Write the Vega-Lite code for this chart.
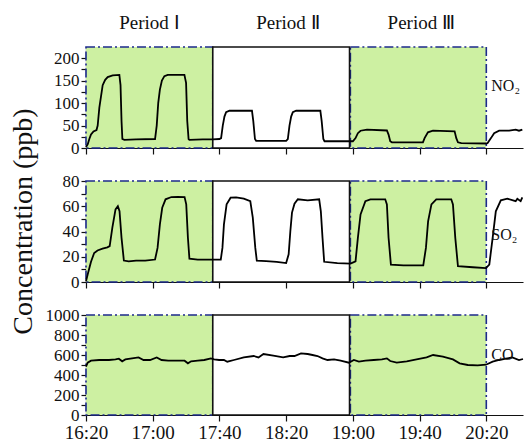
{
  "$schema": "https://vega.github.io/schema/vega-lite/v6.json",
  "padding": {"left": 8, "top": 14, "right": 0, "bottom": 2},
  "spacing": 33,
  "bounds": "flush",
  "config": {
    "font": "Liberation Serif",
    "view": {"stroke": null},
    "axis": {"grid": false, "labelOverlap": false, "domainColor": "#111", "tickColor": "#111", "labelColor": "#111", "titleColor": "#111", "labelFont": "Liberation Serif", "titleFont": "Liberation Serif", "titleFontWeight": "normal", "domainWidth": 1.2, "tickWidth": 1.2}
  },
  "datasets": {
    "periods": [
      {"period": "Period Ⅰ", "kind": "green", "start": 980, "end": 1056, "labelT": 1018},
      {"period": "Period Ⅱ", "kind": "white", "start": 1056, "end": 1138, "labelT": 1101},
      {"period": "Period Ⅲ", "kind": "green", "start": 1138.5, "end": 1220, "labelT": 1181}
    ],
    "no2": [
      {"t":980,"v":2},{"t":981,"v":8},{"t":982,"v":20},{"t":983,"v":30},{"t":984.5,"v":37},{"t":986.3,"v":40},{"t":987,"v":50},{"t":988,"v":90},{"t":989,"v":115},{"t":990,"v":140},{"t":991.5,"v":152},{"t":993,"v":158},{"t":996,"v":162},{"t":1000,"v":163},{"t":1000.7,"v":140},{"t":1001.3,"v":60},{"t":1001.8,"v":20},{"t":1003,"v":18},{"t":1010,"v":19},{"t":1021.4,"v":20},{"t":1022.4,"v":50},{"t":1023.3,"v":100},{"t":1024.3,"v":130},{"t":1025.5,"v":150},{"t":1027,"v":160},{"t":1029,"v":163},{"t":1039,"v":163},{"t":1040,"v":145},{"t":1040.7,"v":60},{"t":1041.5,"v":20},{"t":1042,"v":18},{"t":1050,"v":19},{"t":1056,"v":19},{"t":1060,"v":20},{"t":1061,"v":22},{"t":1062,"v":50},{"t":1063,"v":70},{"t":1064,"v":80},{"t":1066,"v":83},{"t":1079.5,"v":83},{"t":1080.3,"v":60},{"t":1081.3,"v":20},{"t":1082,"v":16},{"t":1090,"v":16},{"t":1100,"v":16},{"t":1101,"v":20},{"t":1102,"v":50},{"t":1103,"v":70},{"t":1104,"v":80},{"t":1106,"v":83},{"t":1120.5,"v":83},{"t":1121.3,"v":60},{"t":1122.3,"v":20},{"t":1123,"v":15},{"t":1130,"v":15},{"t":1137,"v":15},{"t":1140,"v":15},{"t":1141.6,"v":22},{"t":1143,"v":33},{"t":1144.6,"v":38.5},{"t":1148.5,"v":41},{"t":1160.4,"v":39},{"t":1161.4,"v":30},{"t":1162.4,"v":15},{"t":1163.4,"v":12.6},{"t":1182,"v":12.6},{"t":1183,"v":22},{"t":1185,"v":35},{"t":1188,"v":38.5},{"t":1201,"v":37},{"t":1202,"v":22},{"t":1203,"v":12.6},{"t":1205,"v":11},{"t":1220,"v":10},{"t":1220.8,"v":11},{"t":1222.8,"v":22},{"t":1224.7,"v":33},{"t":1227.7,"v":38.5},{"t":1233.7,"v":38.5},{"t":1237.6,"v":41},{"t":1239.6,"v":38.5},{"t":1241.6,"v":41}
    ],
    "so2": [
      {"t":980,"v":0.5},{"t":981,"v":6},{"t":983,"v":16},{"t":984.9,"v":23},{"t":986.9,"v":25},{"t":989.9,"v":26.5},{"t":992.8,"v":27.5},{"t":994.2,"v":28.4},{"t":995.8,"v":43},{"t":997.7,"v":57.5},{"t":999.1,"v":60},{"t":1000.1,"v":56},{"t":1001.3,"v":35},{"t":1002.7,"v":17},{"t":1005.6,"v":16.4},{"t":1010,"v":17},{"t":1015.5,"v":17},{"t":1021.4,"v":17.8},{"t":1022.9,"v":27},{"t":1024.3,"v":45.6},{"t":1025.7,"v":58.8},{"t":1027.7,"v":65.5},{"t":1031.2,"v":67.3},{"t":1035,"v":67.5},{"t":1039.1,"v":67.3},{"t":1040.1,"v":61.5},{"t":1041.1,"v":35},{"t":1042,"v":18.5},{"t":1047,"v":17.8},{"t":1054.9,"v":17.8},{"t":1060.8,"v":17.8},{"t":1061.8,"v":27},{"t":1062.7,"v":45.6},{"t":1064.3,"v":61.5},{"t":1066.7,"v":66.8},{"t":1070,"v":67},{"t":1074.6,"v":66},{"t":1078.5,"v":64},{"t":1080,"v":51},{"t":1081.5,"v":27},{"t":1082.4,"v":17},{"t":1088,"v":16.5},{"t":1094.3,"v":16},{"t":1100,"v":15},{"t":1101.5,"v":22},{"t":1102.5,"v":40},{"t":1103.5,"v":55},{"t":1105,"v":62},{"t":1107,"v":65.5},{"t":1112.9,"v":64.7},{"t":1119.8,"v":65.5},{"t":1120.8,"v":56},{"t":1121.8,"v":35},{"t":1122.8,"v":16},{"t":1130.7,"v":15},{"t":1138.6,"v":14.6},{"t":1141.6,"v":16.4},{"t":1143,"v":35},{"t":1144.6,"v":53.5},{"t":1147.5,"v":64},{"t":1150.5,"v":65.5},{"t":1159.4,"v":65.5},{"t":1160.4,"v":61.5},{"t":1161.4,"v":35},{"t":1162.8,"v":13.8},{"t":1170.3,"v":13.2},{"t":1182.2,"v":13.2},{"t":1183.8,"v":27},{"t":1185.1,"v":48},{"t":1187.1,"v":61.5},{"t":1190,"v":65.5},{"t":1199,"v":65.5},{"t":1200,"v":61.5},{"t":1201.4,"v":35},{"t":1203,"v":12.5},{"t":1211.9,"v":11.7},{"t":1219.8,"v":11},{"t":1221.8,"v":13.8},{"t":1223.8,"v":35},{"t":1225.7,"v":56},{"t":1228.7,"v":64.7},{"t":1232.6,"v":66},{"t":1237.6,"v":64},{"t":1238.6,"v":66},{"t":1240.6,"v":64},{"t":1241.6,"v":67}
    ],
    "co": [
      {"t":980,"v":483},{"t":981,"v":523},{"t":983,"v":543},{"t":987.9,"v":550},{"t":993.8,"v":550},{"t":997.7,"v":556},{"t":999.7,"v":563},{"t":1001.7,"v":537},{"t":1003.6,"v":556},{"t":1007.6,"v":566},{"t":1011.5,"v":576},{"t":1014.5,"v":550},{"t":1018.4,"v":550},{"t":1022.4,"v":576},{"t":1025.3,"v":550},{"t":1029.3,"v":543},{"t":1035.2,"v":543},{"t":1039.1,"v":543},{"t":1041.1,"v":517},{"t":1043,"v":537},{"t":1047,"v":543},{"t":1050.9,"v":550},{"t":1054.9,"v":566},{"t":1056.8,"v":556},{"t":1059.8,"v":550},{"t":1062.7,"v":550},{"t":1064.7,"v":533},{"t":1068.7,"v":550},{"t":1074.6,"v":576},{"t":1080.5,"v":590},{"t":1083.4,"v":576},{"t":1086.4,"v":610},{"t":1092.3,"v":593},{"t":1098.2,"v":576},{"t":1102.1,"v":590},{"t":1105,"v":590},{"t":1108.9,"v":616},{"t":1112.9,"v":610},{"t":1115.8,"v":600},{"t":1118.8,"v":590},{"t":1121.8,"v":566},{"t":1124.8,"v":550},{"t":1128.7,"v":556},{"t":1132.7,"v":543},{"t":1137.6,"v":523},{"t":1140.6,"v":550},{"t":1143.6,"v":533},{"t":1147.5,"v":543},{"t":1152.5,"v":550},{"t":1157.4,"v":556},{"t":1160.4,"v":566},{"t":1162.4,"v":540},{"t":1166.3,"v":523},{"t":1172.3,"v":537},{"t":1178.2,"v":556},{"t":1184.2,"v":576},{"t":1188.1,"v":600},{"t":1194,"v":583},{"t":1200,"v":556},{"t":1204,"v":517},{"t":1208.9,"v":500},{"t":1214.8,"v":497},{"t":1219.8,"v":503},{"t":1223.8,"v":533},{"t":1227.7,"v":550},{"t":1231.7,"v":563},{"t":1235.6,"v":576},{"t":1239.6,"v":550},{"t":1242,"v":560}
    ]
  },
  "vconcat": [
    {
      "width": 437, "height": 101,
      "layer": [
        {"data": {"name": "periods"}, "transform": [{"filter": "datum.kind == 'green'"}],
         "mark": {"type": "rect", "fill": "#cdf0a2", "stroke": "#1c2a8c", "strokeWidth": 1.6, "strokeDash": [9, 3, 2, 3]},
         "encoding": {"x": {"field": "start", "type": "quantitative", "scale": {"domain": [980, 1242], "nice": false, "zero": false}, "axis": {"values": [980,1020,1060,1100,1140,1180,1220], "labels": false, "title": null, "tickSize": 6}}, "x2": {"field": "end"}}},
        {"data": {"name": "periods"}, "transform": [{"filter": "datum.kind == 'white'"}],
         "mark": {"type": "rect", "fill": "#ffffff", "stroke": "#111111", "strokeWidth": 1.6},
         "encoding": {"x": {"field": "start", "type": "quantitative"}, "x2": {"field": "end"}}},
        {"data": {"name": "no2"}, "mark": {"type": "line", "color": "#000", "strokeWidth": 1.8},
         "encoding": {"x": {"field": "t", "type": "quantitative", "title": null},
                      "y": {"field": "v", "type": "quantitative", "scale": {"domain": [0, 225], "nice": false},
                            "axis": {"values": [0,25,50,75,100,125,150,175,200], "title": null, "labelOverlap": false, "labelFontSize": 17, "labelPadding": 2, "labelExpr": "datum.value % 50 == 0 ? datum.label : ''", "tickSize": 5}}}},
        {"data": {"name": "periods"}, "mark": {"type": "text", "fontSize": 19, "baseline": "alphabetic", "dy": -18, "color": "#111"},
         "encoding": {"x": {"field": "labelT", "type": "quantitative"}, "y": {"datum": 225, "type": "quantitative", "axis": {"values": [0,25,50,75,100,125,150,175,200], "title": null, "labelOverlap": false, "labelFontSize": 17, "labelPadding": 2, "labelExpr": "datum.value % 50 == 0 ? datum.label : ''", "tickSize": 5}}, "text": {"field": "period"}}},
        {"data": {"values": [{"t": 1223, "v": 138, "label": "NO₂"}]}, "mark": {"type": "text", "fontSize": 16, "align": "left", "color": "#111"},
         "encoding": {"x": {"field": "t", "type": "quantitative"}, "y": {"field": "v", "type": "quantitative", "axis": {"values": [0,25,50,75,100,125,150,175,200], "title": null, "labelOverlap": false, "labelFontSize": 17, "labelPadding": 2, "labelExpr": "datum.value % 50 == 0 ? datum.label : ''", "tickSize": 5}}, "text": {"field": "label"}}}
      ]
    },
    {
      "width": 437, "height": 101,
      "layer": [
        {"data": {"name": "periods"}, "transform": [{"filter": "datum.kind == 'green'"}],
         "mark": {"type": "rect", "fill": "#cdf0a2", "stroke": "#1c2a8c", "strokeWidth": 1.6, "strokeDash": [9, 3, 2, 3]},
         "encoding": {"x": {"field": "start", "type": "quantitative", "scale": {"domain": [980, 1242], "nice": false, "zero": false}, "axis": {"values": [980,1020,1060,1100,1140,1180,1220], "labels": false, "title": null, "tickSize": 6}}, "x2": {"field": "end"}}},
        {"data": {"name": "periods"}, "transform": [{"filter": "datum.kind == 'white'"}],
         "mark": {"type": "rect", "fill": "#ffffff", "stroke": "#111111", "strokeWidth": 1.6},
         "encoding": {"x": {"field": "start", "type": "quantitative"}, "x2": {"field": "end"}}},
        {"data": {"name": "so2"}, "mark": {"type": "line", "color": "#000", "strokeWidth": 1.8},
         "encoding": {"x": {"field": "t", "type": "quantitative", "title": null},
                      "y": {"field": "v", "type": "quantitative", "scale": {"domain": [0, 80], "nice": false},
                            "axis": {"values": [0,10,20,30,40,50,60,70,80], "title": "Concentration (ppb)", "titleFontSize": 28, "titleX": -63, "titleY": 40, "titleAngle": -90, "titleBaseline": "middle", "titleAlign": "center", "labelOverlap": false, "labelFontSize": 17, "labelPadding": 2, "labelExpr": "datum.value % 20 == 0 ? datum.label : ''", "tickSize": 5}}}},
        {"data": {"values": [{"t": 1223, "v": 37, "label": "SO₂"}]}, "mark": {"type": "text", "fontSize": 16, "align": "left", "color": "#111"},
         "encoding": {"x": {"field": "t", "type": "quantitative"}, "y": {"field": "v", "type": "quantitative", "axis": {"values": [0,10,20,30,40,50,60,70,80], "title": "Concentration (ppb)", "titleFontSize": 28, "titleX": -63, "titleY": 40, "titleAngle": -90, "titleBaseline": "middle", "titleAlign": "center", "labelOverlap": false, "labelFontSize": 17, "labelPadding": 2, "labelExpr": "datum.value % 20 == 0 ? datum.label : ''", "tickSize": 5}}, "text": {"field": "label"}}}
      ]
    },
    {
      "width": 437, "height": 100,
      "layer": [
        {"data": {"name": "periods"}, "transform": [{"filter": "datum.kind == 'green'"}],
         "mark": {"type": "rect", "fill": "#cdf0a2", "stroke": "#1c2a8c", "strokeWidth": 1.6, "strokeDash": [9, 3, 2, 3]},
         "encoding": {"x": {"field": "start", "type": "quantitative", "scale": {"domain": [980, 1242], "nice": false, "zero": false},
                            "axis": {"values": [980,1020,1060,1100,1140,1180,1220], "title": null, "tickSize": 6, "labelFontSize": 19, "labelFlush": false, "labelPadding": 2, "labelExpr": "floor(datum.value/60) + ':' + (datum.value % 60 < 10 ? '0' : '') + (datum.value % 60)"}}, "x2": {"field": "end"}}},
        {"data": {"name": "periods"}, "transform": [{"filter": "datum.kind == 'white'"}],
         "mark": {"type": "rect", "fill": "#ffffff", "stroke": "#111111", "strokeWidth": 1.6},
         "encoding": {"x": {"field": "start", "type": "quantitative"}, "x2": {"field": "end"}}},
        {"data": {"name": "co"}, "mark": {"type": "line", "color": "#000", "strokeWidth": 1.8},
         "encoding": {"x": {"field": "t", "type": "quantitative", "title": null},
                      "y": {"field": "v", "type": "quantitative", "scale": {"domain": [0, 1000], "nice": false},
                            "axis": {"values": [0,100,200,300,400,500,600,700,800,900,1000], "format": "d", "title": null, "labelOverlap": false, "labelFontSize": 17, "labelPadding": 2, "labelExpr": "datum.value % 200 == 0 ? datum.label : ''", "tickSize": 5}}}},
        {"data": {"values": [{"t": 1223, "v": 600, "label": "CO"}]}, "mark": {"type": "text", "fontSize": 16, "align": "left", "color": "#111"},
         "encoding": {"x": {"field": "t", "type": "quantitative"}, "y": {"field": "v", "type": "quantitative", "axis": {"values": [0,100,200,300,400,500,600,700,800,900,1000], "format": "d", "title": null, "labelOverlap": false, "labelFontSize": 17, "labelPadding": 2, "labelExpr": "datum.value % 200 == 0 ? datum.label : ''", "tickSize": 5}}, "text": {"field": "label"}}}
      ]
    }
  ]
}
